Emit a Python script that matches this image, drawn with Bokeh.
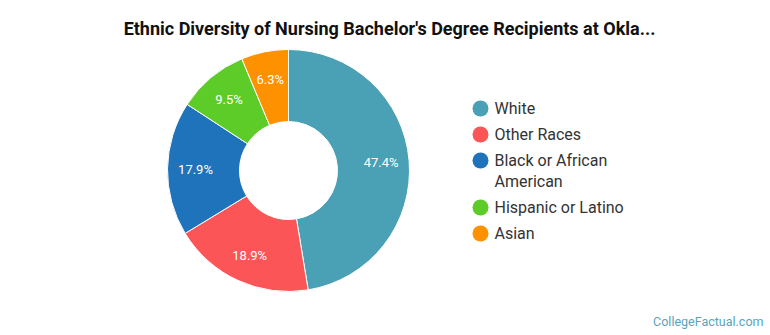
import math
import textwrap

from bokeh.core.properties import value
from bokeh.embed import file_html
from bokeh.models import ColumnDataSource
from bokeh.plotting import figure
from bokeh.resources import INLINE

# Share of nursing bachelor's degree recipients by ethnicity (percent)
categories = ["White", "Other Races", "Black or African American", "Hispanic or Latino", "Asian"]
shares = [47.4, 18.9, 17.9, 9.5, 6.3]
colors = ["#4aa0b5", "#fc5558", "#1f73bb", "#5dcb28", "#fe9100"]
title_text = "Ethnic Diversity of Nursing Bachelor's Degree Recipients at Okla..."
credit_text = "CollegeFactual.com"

W, H = 770, 335
FONT = "Roboto"

# Canvas in pixel units, y measured upward
p = figure(width=W, height=H, x_range=(0, W), y_range=(0, H),
           toolbar_location=None, output_backend="svg",
           x_axis_type=None, y_axis_type=None, min_border=0)
p.outline_line_color = None
p.grid.visible = False
p.background_fill_color = "white"
p.border_fill_color = "white"

def py(y_from_top):
    return H - y_from_top

# Donut: slices run clockwise from 12 o'clock
cx, cy = 288, py(170)
r_outer, r_inner, r_label = 121, 49, 93
total = sum(shares)
starts, ends, lx, ly, labels = [], [], [], [], []
acc = 0.0
for s in shares:
    a0 = math.pi / 2 - 2 * math.pi * acc / total
    acc += s
    a1 = math.pi / 2 - 2 * math.pi * acc / total
    starts.append(a0)
    ends.append(a1)
    mid = (a0 + a1) / 2
    lx.append(cx + r_label * math.cos(mid))
    ly.append(cy + r_label * math.sin(mid))
    labels.append(f"{s:.1f}%")

src = ColumnDataSource(dict(start=starts, end=ends, color=colors,
                            lx=lx, ly=ly, label=labels))
p.annular_wedge(x=cx, y=cy, inner_radius=r_inner, outer_radius=r_outer,
                start_angle="start", end_angle="end", direction="clock",
                fill_color="color", line_color="white", line_width=1, source=src)
p.text(x="lx", y="ly", text="label", source=src, text_color="white",
       text_font=value(FONT), text_font_size="13px",
       text_align="center", text_baseline="middle")

# Title
p.text(x=[389], y=[py(28)], text=[title_text], text_font=value(FONT),
       text_font_size="18px", text_font_style="bold", text_color="#111111",
       text_align="center", text_baseline="middle")

# Legend
leg_x, leg_y = 480, 108
row_gap, line_gap = 26, 21
dot_x, dot_y, txt_x, txt_y, txt = [], [], [], [], []
y = leg_y
for cat, col in zip(categories, colors):
    lines = textwrap.wrap(cat, 18)
    dot_x.append(leg_x)
    dot_y.append(py(y))
    for i, line in enumerate(lines):
        txt_x.append(leg_x + 14)
        txt_y.append(py(y + i * line_gap))
        txt.append(line)
    y += row_gap + (len(lines) - 1) * line_gap

p.circle(x=dot_x, y=dot_y, radius=8, fill_color=colors, line_color=None)
p.text(x=txt_x, y=txt_y, text=txt, text_font=value(FONT), text_font_size="16px",
       text_color="#333333", text_align="left", text_baseline="middle")

# Credit line
p.text(x=[763], y=[py(321)], text=[credit_text], text_font=value(FONT),
       text_font_size="12.5px", text_color="#5ba4b7",
       text_align="right", text_baseline="middle")

open("out.html", "w").write(file_html(p, INLINE))
